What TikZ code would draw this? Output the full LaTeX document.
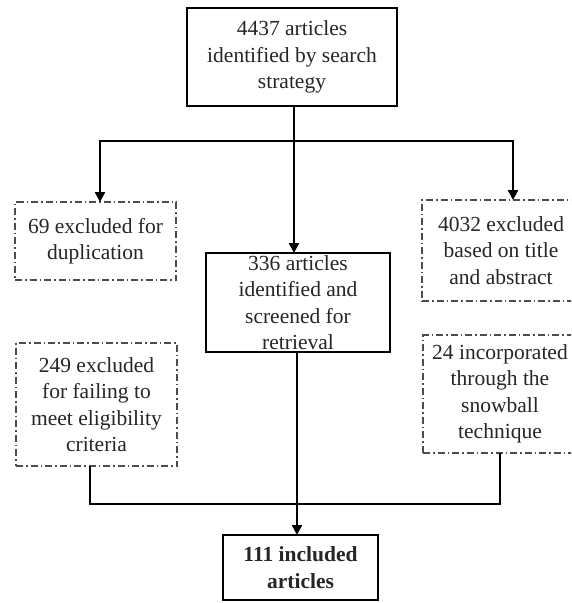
\documentclass[tikz,border=0pt]{standalone}
\usepackage{fontspec}
\setmainfont{Liberation Serif}
\usetikzlibrary{arrows.meta}
\tikzset{
  solidbox/.style={draw=black, line width=2pt, align=center, inner sep=0pt, outer sep=0pt, text=black!85},
  dashbox/.style={draw=black!70, line width=1.5pt, dash pattern=on 7pt off 3pt on 1.5pt off 3pt, align=center, inner sep=0pt, outer sep=0pt, text=black!85},
  conn/.style={draw=black, line width=2.4pt},
  arr/.style={conn, -{Triangle[length=10pt,width=10pt]}},
  txt/.style={font=\fontsize{21.5}{26.5}\selectfont}
}
\begin{document}
\begin{tikzpicture}[x=1pt,y=-1pt]
\clip (0,0) rectangle (571,603);
\fill[white] (0,0) rectangle (571,603);
\node[solidbox, txt, minimum width=210pt, minimum height=98pt] (top) at (292,57) {4437 articles\\identified by search\\strategy};
\node[dashbox, txt, minimum width=161pt, minimum height=78pt] (dup) at (95.5,241) {69 excluded for\\duplication};
\node[dashbox, txt, minimum width=158pt, minimum height=101pt] (ttl) at (501,250.5) {4032 excluded\\based on title\\and abstract};
\node[solidbox, txt, minimum width=184pt, minimum height=99pt] (mid) at (298,302.5) {336 articles\\identified and\\screened for\\retrieval};
\node[dashbox, txt, minimum width=161pt, minimum height=123pt] (elig) at (96.5,404.5) {249 excluded\\for failing to\\meet eligibility\\criteria};
\node[dashbox, txt, minimum width=154pt, minimum height=118pt] (snow) at (500,394) {24 incorporated\\through the\\snowball\\technique};
\node[solidbox, font=\fontsize{21.5}{26.5}\selectfont\bfseries, minimum width=155pt, minimum height=65pt] (final) at (300.5,567.5) {111 included\\articles};
\coordinate (j1) at (294,141);
\coordinate (j2) at (297,504);
\draw[conn] (top.south -| j1) -- (j1);
\draw[arr] (j1) -| ([xshift=4.5pt]dup.north);
\draw[arr] (j1) -| ([xshift=12pt]ttl.north);
\draw[arr] (j1) -- (j1 |- mid.north);
\draw[conn] ([xshift=-6.5pt]elig.south) |- (j2);
\draw[conn] (snow.south) |- (j2);
\draw[conn] (mid.south -| j2) -- (j2);
\draw[arr] (j2) -- (j2 |- final.north);
\end{tikzpicture}
\end{document}
